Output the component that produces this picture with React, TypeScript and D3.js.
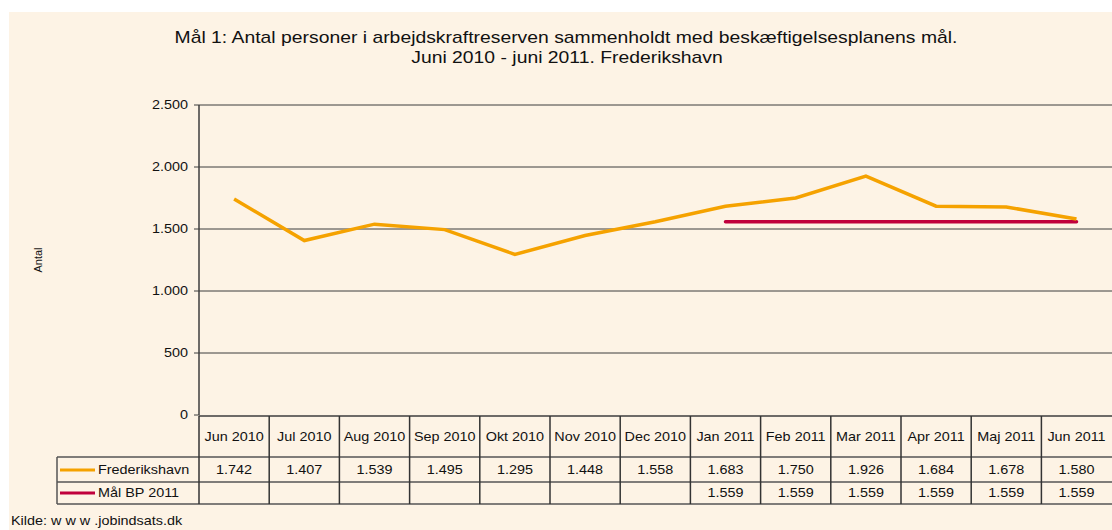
import React from "react";
import * as d3 from "d3";

const months = [
  "Jun 2010", "Jul 2010", "Aug 2010", "Sep 2010", "Okt 2010", "Nov 2010", "Dec 2010",
  "Jan 2011", "Feb 2011", "Mar 2011", "Apr 2011", "Maj 2011", "Jun 2011",
];
const frederikshavn = [1742, 1407, 1539, 1495, 1295, 1448, 1558, 1683, 1750, 1926, 1684, 1678, 1580];
const maalBP = [null, null, null, null, null, null, null, 1559, 1559, 1559, 1559, 1559, 1559];
const yTicks = [0, 500, 1000, 1500, 2000, 2500];

const W = 1112;
const H = 530;
const left = 199;
const right = 1112;
const top = 105;
const bottom = 415;
const rowY = [416, 457, 482, 504];
const legendX = 57;
const font = "'Liberation Sans', Arial, sans-serif";
const orange = "#F5A200";
const red = "#C0003C";

const fmt = (v: number) => d3.format(",")(v).replace(/,/g, ".");

// Excel-style text is stretched horizontally in the original
const T = ({ x, y, anchor = "middle", size = 12, sx = 1.2, children }: any) => (
  <g transform={`translate(${x},${y}) scale(${sx},1)`}>
    <text x={0} y={0} textAnchor={anchor} fontSize={size} fontFamily={font} fill="#111">
      {children}
    </text>
  </g>
);

const App = () => {
  const x = d3.scaleBand<string>().domain(months).range([left, left + 70.2 * 13]);
  const y = d3.scaleLinear().domain([0, 2500]).range([bottom, top]);
  const cx = (m: string) => (x(m) as number) + x.bandwidth() / 2;

  const line = d3
    .line<number | null>()
    .defined((d) => d !== null)
    .x((_, i) => cx(months[i]))
    .y((d) => y(d as number));

  const fmtTick = (v: number) => (v === 0 ? "0" : fmt(v));

  return (
    <svg width={W} height={H} style={{ position: "absolute", left: 0, top: 0 }}>
      <rect x={0} y={0} width={W} height={H} fill="#fff" />
      <rect x={9} y={12} width={W - 9} height={H - 12} fill="#FDF3E5" />

      <T x={566} y={43} size={16} sx={1.21}>
        Mål 1: Antal personer i arbejdskraftreserven sammenholdt med beskæftigelsesplanens mål.
      </T>
      <T x={567} y={63} size={16} sx={1.21}>
        Juni 2010 - juni 2011. Frederikshavn
      </T>

      {yTicks.map((t) => (
        <g key={t}>
          {t > 0 && <line x1={left} x2={right} y1={y(t)} y2={y(t)} stroke="#3c3c3c" strokeWidth={1} />}
          <line x1={left - 5} x2={left} y1={y(t)} y2={y(t)} stroke="#3c3c3c" strokeWidth={1} />
          <T x={188} y={y(t) + 4} anchor="end">
            {fmtTick(t)}
          </T>
        </g>
      ))}
      <line x1={left} x2={left} y1={top} y2={bottom} stroke="#3c3c3c" strokeWidth={1.5} />

      <g transform="translate(42,260) rotate(-90)">
        <text textAnchor="middle" fontSize={11} fontFamily={font} fill="#111">
          Antal
        </text>
      </g>

      <path d={line(maalBP) || ""} fill="none" stroke={red} strokeWidth={3.5} strokeLinecap="round" />
      <path d={line(frederikshavn) || ""} fill="none" stroke={orange} strokeWidth={3.5} strokeLinejoin="miter" />

      {/* data table */}
      <line x1={left} x2={right} y1={rowY[0]} y2={rowY[0]} stroke="#3c3c3c" strokeWidth={1.5} />
      {rowY.slice(1).map((ry) => (
        <line key={ry} x1={legendX} x2={right} y1={ry} y2={ry} stroke="#555" strokeWidth={1.5} />
      ))}
      <line x1={legendX} x2={legendX} y1={rowY[1]} y2={rowY[3]} stroke="#555" strokeWidth={1.5} />
      {months.map((m) => (
        <line key={m} x1={x(m)} x2={x(m)} y1={rowY[0]} y2={rowY[3]} stroke="#333" strokeWidth={1.5} />
      ))}
      {months.map((m, i) => (
        <g key={m + "t"}>
          <T x={cx(m)} y={441}>{m}</T>
          <T x={cx(m)} y={474}>{fmt(frederikshavn[i])}</T>
          {maalBP[i] !== null && <T x={cx(m)} y={497}>{fmt(maalBP[i] as number)}</T>}
        </g>
      ))}

      <line x1={60} x2={95} y1={470} y2={470} stroke={orange} strokeWidth={3} />
      <T x={98} y={474} anchor="start">Frederikshavn</T>
      <line x1={60} x2={95} y1={493} y2={493} stroke={red} strokeWidth={3} />
      <T x={98} y={497} anchor="start">Mål BP 2011</T>

      <T x={11} y={525} anchor="start" size={12}>
        Kilde: w w w .jobindsats.dk
      </T>
    </svg>
  );
};

export default App;
